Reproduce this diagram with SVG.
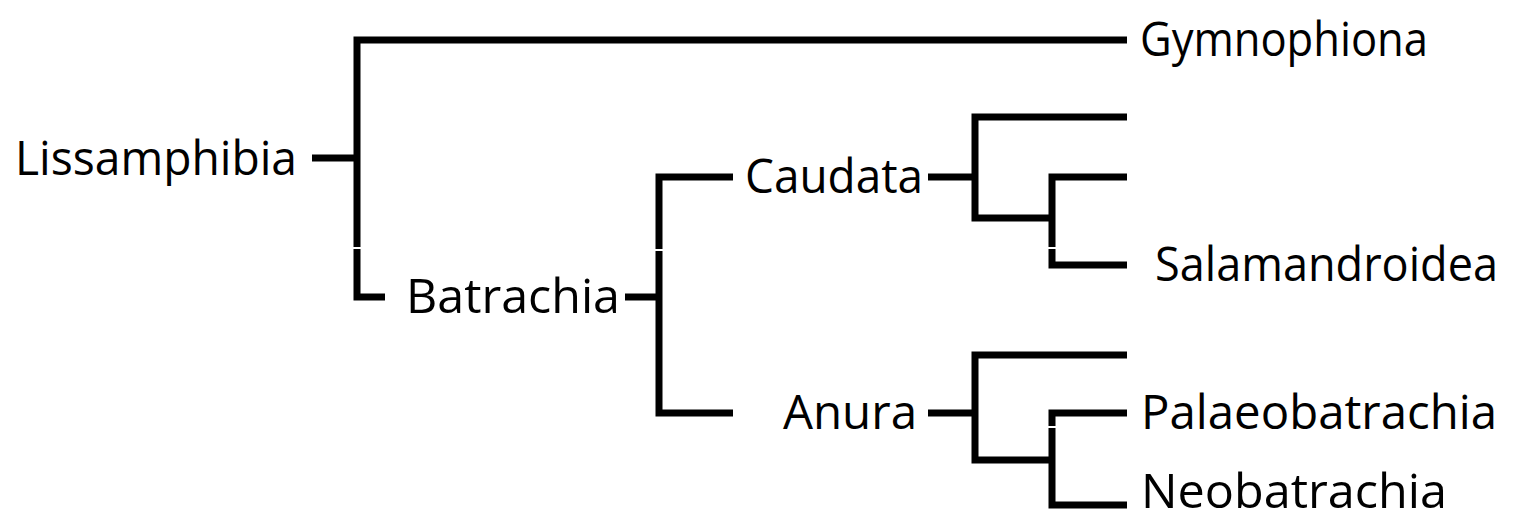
<svg xmlns="http://www.w3.org/2000/svg" width="1528" height="522" viewBox="0 0 1528 522">
<style>
.e{fill:none;stroke:#000;stroke-width:7;stroke-linejoin:miter;stroke-linecap:butt}
.t{font-family:"Open Sans","DejaVu Sans",sans-serif;font-size:48px;fill:#000}
</style>
<rect width="1528" height="522" fill="#fff"/>
<g id="connectors">
<path class="e" d="M1127,40 H357 V247"/>
<path class="e" d="M357,249 V297 H385"/>
<path class="e" d="M312,158 H357"/>
<path class="e" d="M733,177 H659 V249"/>
<path class="e" d="M659,251 V413 H733"/>
<path class="e" d="M625,297 H659"/>
<path class="e" d="M1127,117 H975 V218 H1052"/>
<path class="e" d="M928,177 H975"/>
<path class="e" d="M1127,177 H1052 V247"/>
<path class="e" d="M1052,249 V265 H1127"/>
<path class="e" d="M1127,355 H975 V460 H1052"/>
<path class="e" d="M928,413 H975"/>
<path class="e" d="M1127,413 H1052 V426"/>
<path class="e" d="M1052,428 V505 H1127"/>
</g>
<g id="Lissamphibia"><text class="t" x="15" y="175" textLength="282" lengthAdjust="spacingAndGlyphs">Lissamphibia</text></g>
<g id="Gymnophiona"><text class="t" x="1140" y="56" textLength="288" lengthAdjust="spacingAndGlyphs">Gymnophiona</text></g>
<g id="Batrachia"><text class="t" x="406" y="313" textLength="214" lengthAdjust="spacingAndGlyphs">Batrachia</text></g>
<g id="Caudata"><text class="t" x="745" y="193" textLength="178" lengthAdjust="spacingAndGlyphs">Caudata</text></g>
<g id="Salamandroidea"><text class="t" x="1155" y="281" textLength="343" lengthAdjust="spacingAndGlyphs">Salamandroidea</text></g>
<g id="Anura"><text class="t" x="783" y="429" textLength="134" lengthAdjust="spacingAndGlyphs">Anura</text></g>
<g id="Palaeobatrachia"><text class="t" x="1141" y="429" textLength="356" lengthAdjust="spacingAndGlyphs">Palaeobatrachia</text></g>
<g id="Neobatrachia"><text class="t" x="1141" y="508" textLength="306" lengthAdjust="spacingAndGlyphs">Neobatrachia</text></g>
</svg>
